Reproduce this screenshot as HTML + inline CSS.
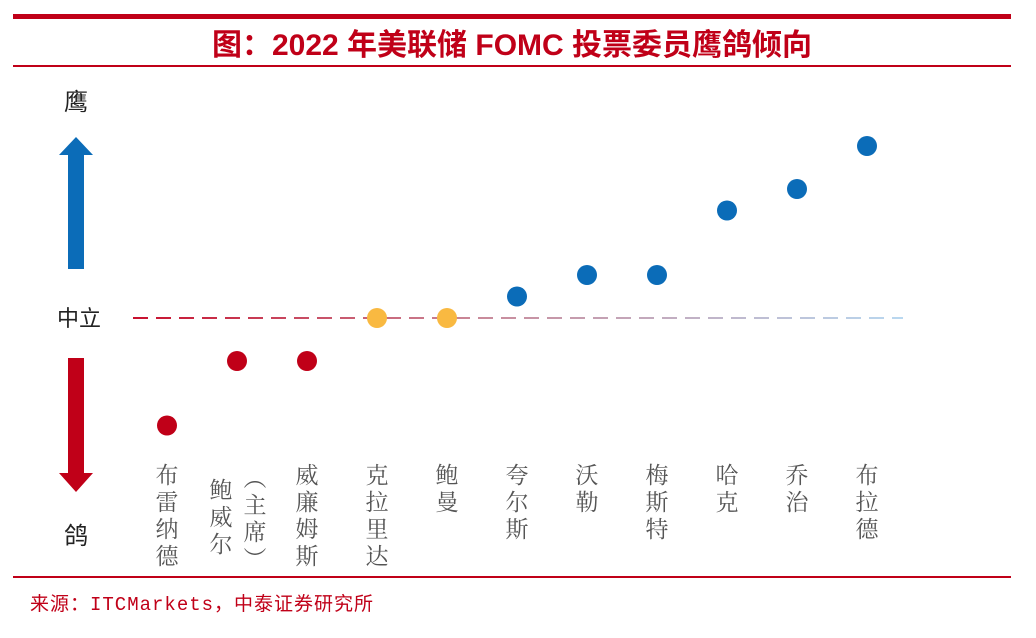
<!DOCTYPE html>
<html><head><meta charset="utf-8"><style>
body{margin:0;background:#fff;width:1036px;height:633px;overflow:hidden;font-family:"Liberation Sans","Noto Sans CJK SC",sans-serif}
</style></head><body>
<svg width="1036" height="633">
<defs><linearGradient id="dg" gradientUnits="userSpaceOnUse" x1="133" y1="0" x2="903" y2="0"><stop offset="0" stop-color="#c8102e"/><stop offset="0.45" stop-color="#c98a9a"/><stop offset="1" stop-color="#b9d8f0"/></linearGradient></defs>
<rect x="13" y="14" width="998" height="5" fill="#c00018"/>
<text x="512" y="55" text-anchor="middle" font-size="30" font-weight="bold" fill="#c00018" font-family="'Liberation Sans','Noto Sans CJK SC',sans-serif">图：2022 年美联储 FOMC 投票委员鹰鸽倾向</text>
<rect x="13" y="65" width="998" height="2" fill="#c00018"/>
<rect x="13" y="576" width="998" height="2" fill="#c00018"/>
<text x="30" y="610" font-size="19" fill="#c00018" letter-spacing="1" font-family="'Liberation Mono','Noto Sans CJK SC',monospace">来源：ITCMarkets，中泰证券研究所</text>
<text x="76" y="110" text-anchor="middle" font-size="24" fill="#222">鹰</text>
<text x="79" y="326" text-anchor="middle" font-size="22" fill="#222">中立</text>
<text x="76" y="544" text-anchor="middle" font-size="24" fill="#222">鸽</text>
<polygon points="76,137 93,155 84,155 84,269 68,269 68,155 59,155" fill="#0b6cb8"/>
<polygon points="68,358 84,358 84,473 93,473 76,492 59,473 68,473" fill="#c00018"/>
<line x1="133" y1="318" x2="903" y2="318" stroke="url(#dg)" stroke-width="2" stroke-dasharray="15,8"/>
<g id="marks"></g>
</svg>
<script>
const members=["布雷纳德","鲍威尔（主席）","威廉姆斯","克拉里达","鲍曼","夸尔斯","沃勒","梅斯特","哈克","乔治","布拉德"];
const stance=[-5,-2,-2,0,0,1,2,2,5,6,8];
const ns="http://www.w3.org/2000/svg";
const g=document.getElementById('marks');
const xS=i=>167+i*70;
const yS=v=>318-v*21.5;
const colorOf=v=>v<0?"#c00018":(v===0?"#f9b941":"#0b6cb8");
stance.forEach((v,i)=>{
 const c=document.createElementNS(ns,'circle');
 c.setAttribute('cx',xS(i));c.setAttribute('cy',yS(v));c.setAttribute('r',10);c.setAttribute('fill',colorOf(v));
 
 
 g.appendChild(c);
});
function col(str,x,top){
 [...str].forEach((ch,k)=>{
  const t=document.createElementNS(ns,'text');
  t.setAttribute('x',x);t.setAttribute('y',top+20+k*27);t.setAttribute('text-anchor','middle');
  t.setAttribute('font-size','23');t.setAttribute('fill','#555');
  t.setAttribute('font-family',"'Noto Serif CJK SC','Noto Sans CJK SC',serif");
  t.textContent=ch;
  
  
  g.appendChild(t);
 });
}
members.forEach((m,i)=>{
 if(i===1){col("鲍威尔",xS(1)-16,478);col("︵主席︶",xS(1)+18,466);}
 else col(m,xS(i),463);
});
</script>
</body></html>
